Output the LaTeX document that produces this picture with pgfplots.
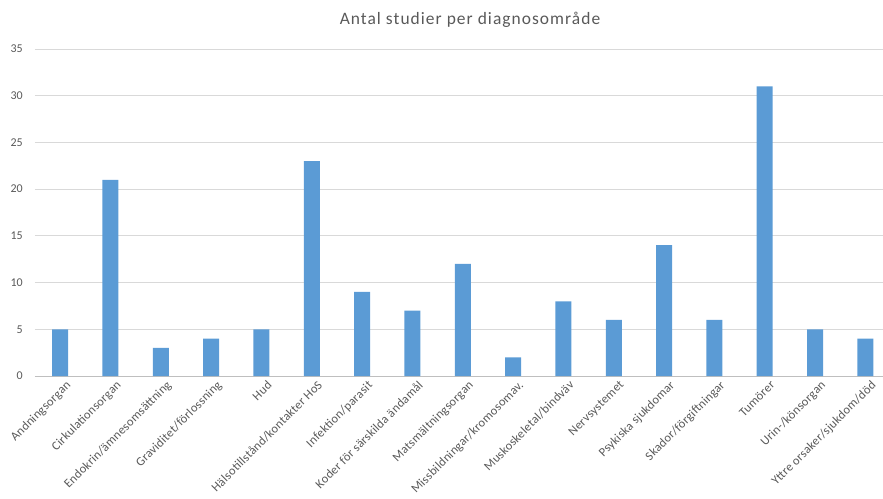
\documentclass[border=0pt]{standalone}
\usepackage{pgfplots}
\pgfplotsset{compat=1.18}
\usepackage{fontspec}
\setmainfont{Carlito}
\definecolor{barblue}{HTML}{5B9BD5}
\definecolor{txtgray}{HTML}{595959}
\definecolor{gridgray}{HTML}{D9D9D9}
\definecolor{axgray}{HTML}{BFBFBF}
\begin{document}
\begin{tikzpicture}
\useasboundingbox (0bp,0bp) rectangle (883bp,499bp);
\begin{axis}[
  at={(35bp,123bp)}, anchor=south west,
  scale only axis, width=848bp, height=327bp,
  xmin=-0.5, xmax=16.35, ymin=0, ymax=35,
  ybar, bar width=16bp,
  axis x line=bottom, axis y line=left,
  y axis line style={draw=none},
  x axis line style={draw=axgray, -},
  major tick length=0pt,
  ymajorgrids, grid style={gridgray, line width=0.8pt},
  ytick={0,5,...,35},
  xtick={0,...,16},
  xticklabels={Andningsorgan,Cirkulationsorgan,Endokrin/ämnesomsättning,Graviditet/förlossning,Hud,Hälsotillstånd/kontakter HoS,Infektion/parasit,Koder för särskilda ändamål,Matsmältningsorgan,Missbildningar/kromosomav.,Muskoskeletal/bindväv,Nervsystemet,Psykiska sjukdomar,Skador/förgiftningar,Tumörer,Urin-/könsorgan,Yttre orsaker/sjukdom/död},
  x tick label style={rotate=45, anchor=north east, font=\fontsize{12.5}{14}\selectfont\addfontfeatures{LetterSpace=2}, text=txtgray, inner sep=1pt, xshift=2bp, yshift=-5bp},
  y tick label style={font=\fontsize{12}{14}\selectfont, text=txtgray, inner sep=0pt, xshift=-12bp},
  /pgf/number format/assume math mode=true,
]
\addplot[fill=barblue, draw=none] coordinates {
(0,5) (1,21) (2,3) (3,4) (4,5) (5,23) (6,9) (7,7) (8,12) (9,2) (10,8) (11,6) (12,14) (13,6) (14,31) (15,5) (16,4)};
\end{axis}
\node[text=txtgray, font=\fontsize{17.5}{20}\selectfont\addfontfeatures{LetterSpace=6}] at (470bp,479bp) {Antal studier per diagnosområde};
\end{tikzpicture}
\end{document}
